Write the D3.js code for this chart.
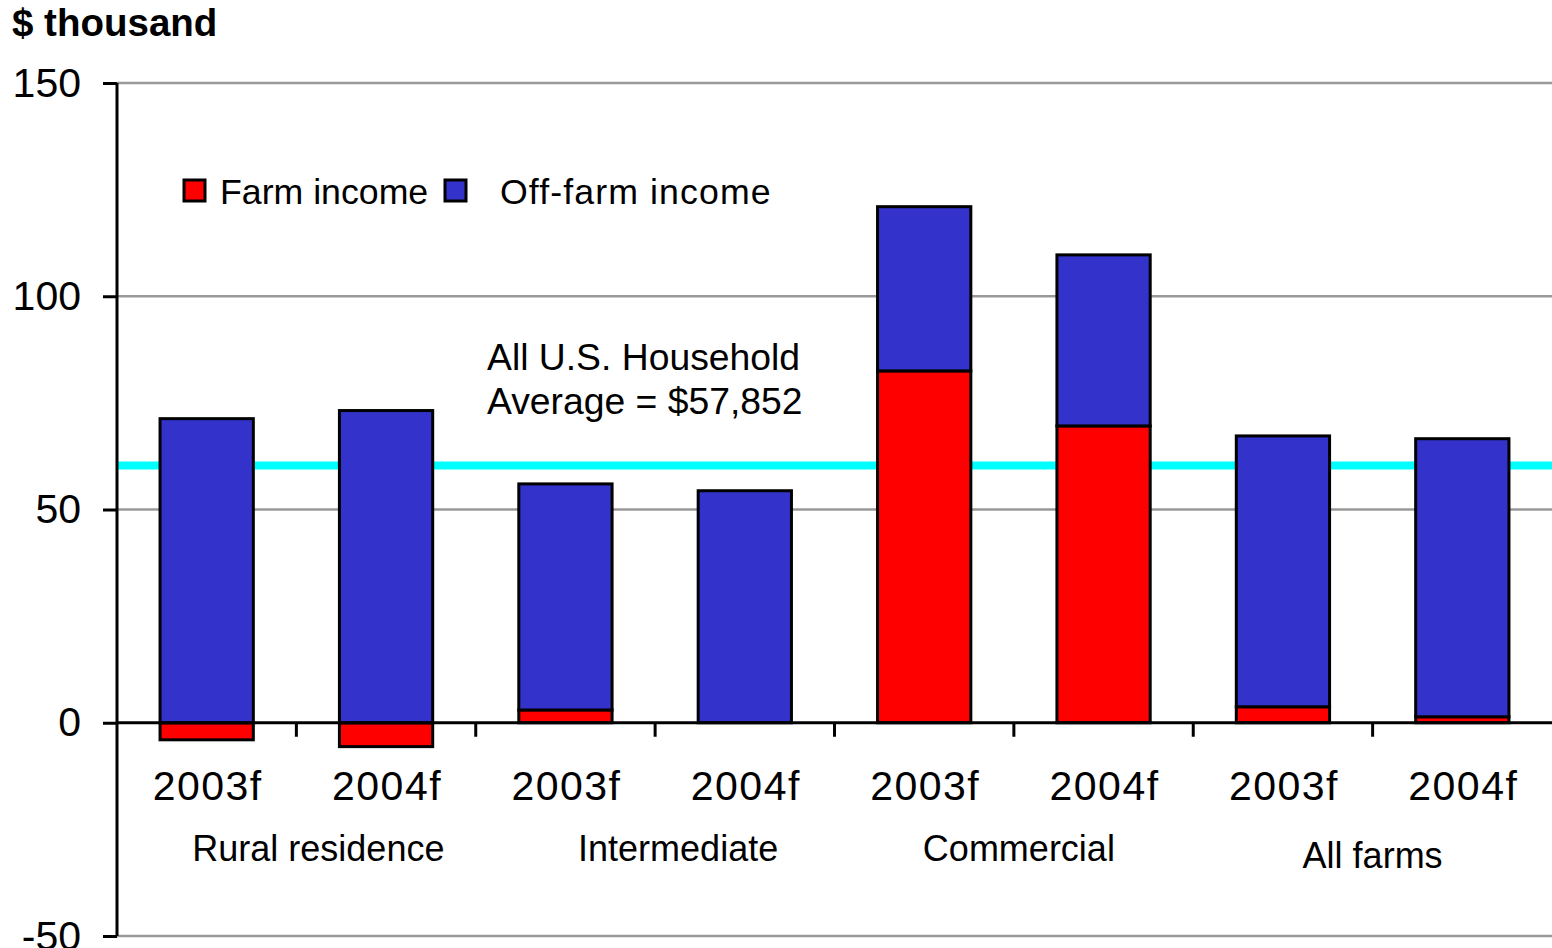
<!DOCTYPE html>
<html>
<head>
<meta charset="utf-8">
<script src="https://cdn.jsdelivr.net/npm/d3@7"></script>
<style>
  html, body { margin: 0; padding: 0; background: #fff; }
  svg { display: block; font-family: "Liberation Sans", Arial, sans-serif; }
</style>
</head>
<body>
<svg id="chart" width="1552" height="948"></svg>
<script>
// ---- data ----
const years = ["2003f", "2004f", "2003f", "2004f", "2003f", "2004f", "2003f", "2004f"];
const groups = ["Rural residence", "Intermediate", "Commercial", "All farms"];
const farmIncome = [-4.0, -5.6, 3.0, 0.0, 82.5, 69.6, 3.75, 1.4];
const offFarmIncome = [71.3, 73.2, 53.0, 54.4, 38.5, 40.1, 63.5, 65.2];
const seriesNames = ["Farm income", "Off-farm income"];
const seriesColors = ["#ff0000", "#3333cc"];
const yTicks = [-50, 0, 50, 100, 150];
const householdAvgLine = 60.3;
const annotation = ["All U.S. Household", "Average = $57,852"];
const yTitle = "$ thousand";

// ---- layout ----
const svg = d3.select("#chart");
const mLeft = 117, mRight = 1552, mTop = 83, mBottom = 936;
const ids = years.map((d, i) => i);

const x = d3.scaleBand().domain(ids).range([mLeft, mRight]).paddingInner(0.48).paddingOuter(0.24);
const xBand = d3.scaleBand().domain(ids).range([mLeft, mRight]);
const y = d3.scaleLinear().domain([-50, 150]).range([mBottom, mTop]);

const rows = ids.map(i => ({ i, farm: farmIncome[i], off: offFarmIncome[i] }));
const stack = d3.stack().keys(["farm", "off"]).offset(d3.stackOffsetDiverging);
const stacked = stack(rows);

// gridlines
svg.append("g").selectAll("line").data(yTicks.filter(t => t !== 0)).join("line")
  .attr("x1", mLeft).attr("x2", mRight)
  .attr("y1", d => y(d)).attr("y2", d => y(d))
  .attr("stroke", "#999").attr("stroke-width", 2.5);

// household average line
svg.append("line")
  .attr("x1", mLeft).attr("x2", mRight)
  .attr("y1", y(householdAvgLine)).attr("y2", y(householdAvgLine))
  .attr("stroke", "#00ffff").attr("stroke-width", 8);

// bars
svg.append("g").selectAll("g").data(stacked).join("g")
  .attr("fill", (d, k) => seriesColors[k])
  .selectAll("rect").data(d => d).join("rect")
  .attr("x", d => x(d.data.i))
  .attr("width", x.bandwidth())
  .attr("y", d => y(Math.max(d[0], d[1])))
  .attr("height", d => Math.abs(y(d[0]) - y(d[1])))
  .attr("stroke", "#000").attr("stroke-width", 3);

// y axis
const yAxis = svg.append("g").attr("transform", `translate(${mLeft},0)`)
  .call(d3.axisLeft(y).tickValues(yTicks).tickSize(14).tickPadding(22).tickFormat(d => String(d)));
yAxis.select(".domain").attr("stroke", "#000").attr("stroke-width", 3)
  .attr("d", `M0,${mTop}V${mBottom}`);
yAxis.selectAll(".tick line").attr("stroke", "#000").attr("stroke-width", 3);
yAxis.selectAll(".tick text").attr("font-size", 41).attr("fill", "#000")
  .attr("font-family", "Liberation Sans, Arial, sans-serif");

// x axis at zero
const xAxis = svg.append("g").attr("transform", `translate(0,${y(0)})`);
xAxis.append("line").attr("x1", mLeft).attr("x2", mRight).attr("y1", 0).attr("y2", 0)
  .attr("stroke", "#000").attr("stroke-width", 3);
xAxis.selectAll("line.tk").data(ids.slice(1)).join("line").attr("class", "tk")
  .attr("x1", d => xBand(d)).attr("x2", d => xBand(d))
  .attr("y1", 0).attr("y2", 14).attr("stroke", "#000").attr("stroke-width", 3);

// year labels
svg.append("g").selectAll("text").data(ids).join("text")
  .attr("x", d => x(d) + x.bandwidth() / 2 + 1)
  .attr("y", 800)
  .attr("text-anchor", "middle").attr("font-size", 41).attr("letter-spacing", 1.5)
  .text(d => years[d]);

// group labels
const groupOffsets = [22, 23, 5, 0];
const groupY = [861, 861, 861, 868];
svg.append("g").selectAll("text").data(groups).join("text")
  .attr("x", (d, g) => xBand(g * 2) + xBand.bandwidth() + groupOffsets[g])
  .attr("y", (d, g) => groupY[g])
  .attr("text-anchor", "middle").attr("font-size", 36)
  .text(d => d);

// y title
svg.append("text").attr("x", 12).attr("y", 36)
  .attr("font-size", 38.5).attr("font-weight", "bold").text(yTitle);

// annotation
svg.append("g").selectAll("text").data(annotation).join("text")
  .attr("x", 487).attr("y", (d, k) => 370 + k * 44)
  .attr("font-size", 37.3).text(d => d);

// legend
const legendX = [184, 445];
const legendTextX = [220, 500];
const legendSpacing = [0, 1.1];
const lg = svg.append("g");
seriesNames.forEach((name, k) => {
  lg.append("rect").attr("x", legendX[k]).attr("y", 180).attr("width", 21).attr("height", 21)
    .attr("fill", seriesColors[k]).attr("stroke", "#000").attr("stroke-width", 3);
  lg.append("text").attr("x", legendTextX[k]).attr("y", 204)
    .attr("font-size", 35.7).attr("letter-spacing", legendSpacing[k]).text(name);
});
</script>
</body>
</html>
